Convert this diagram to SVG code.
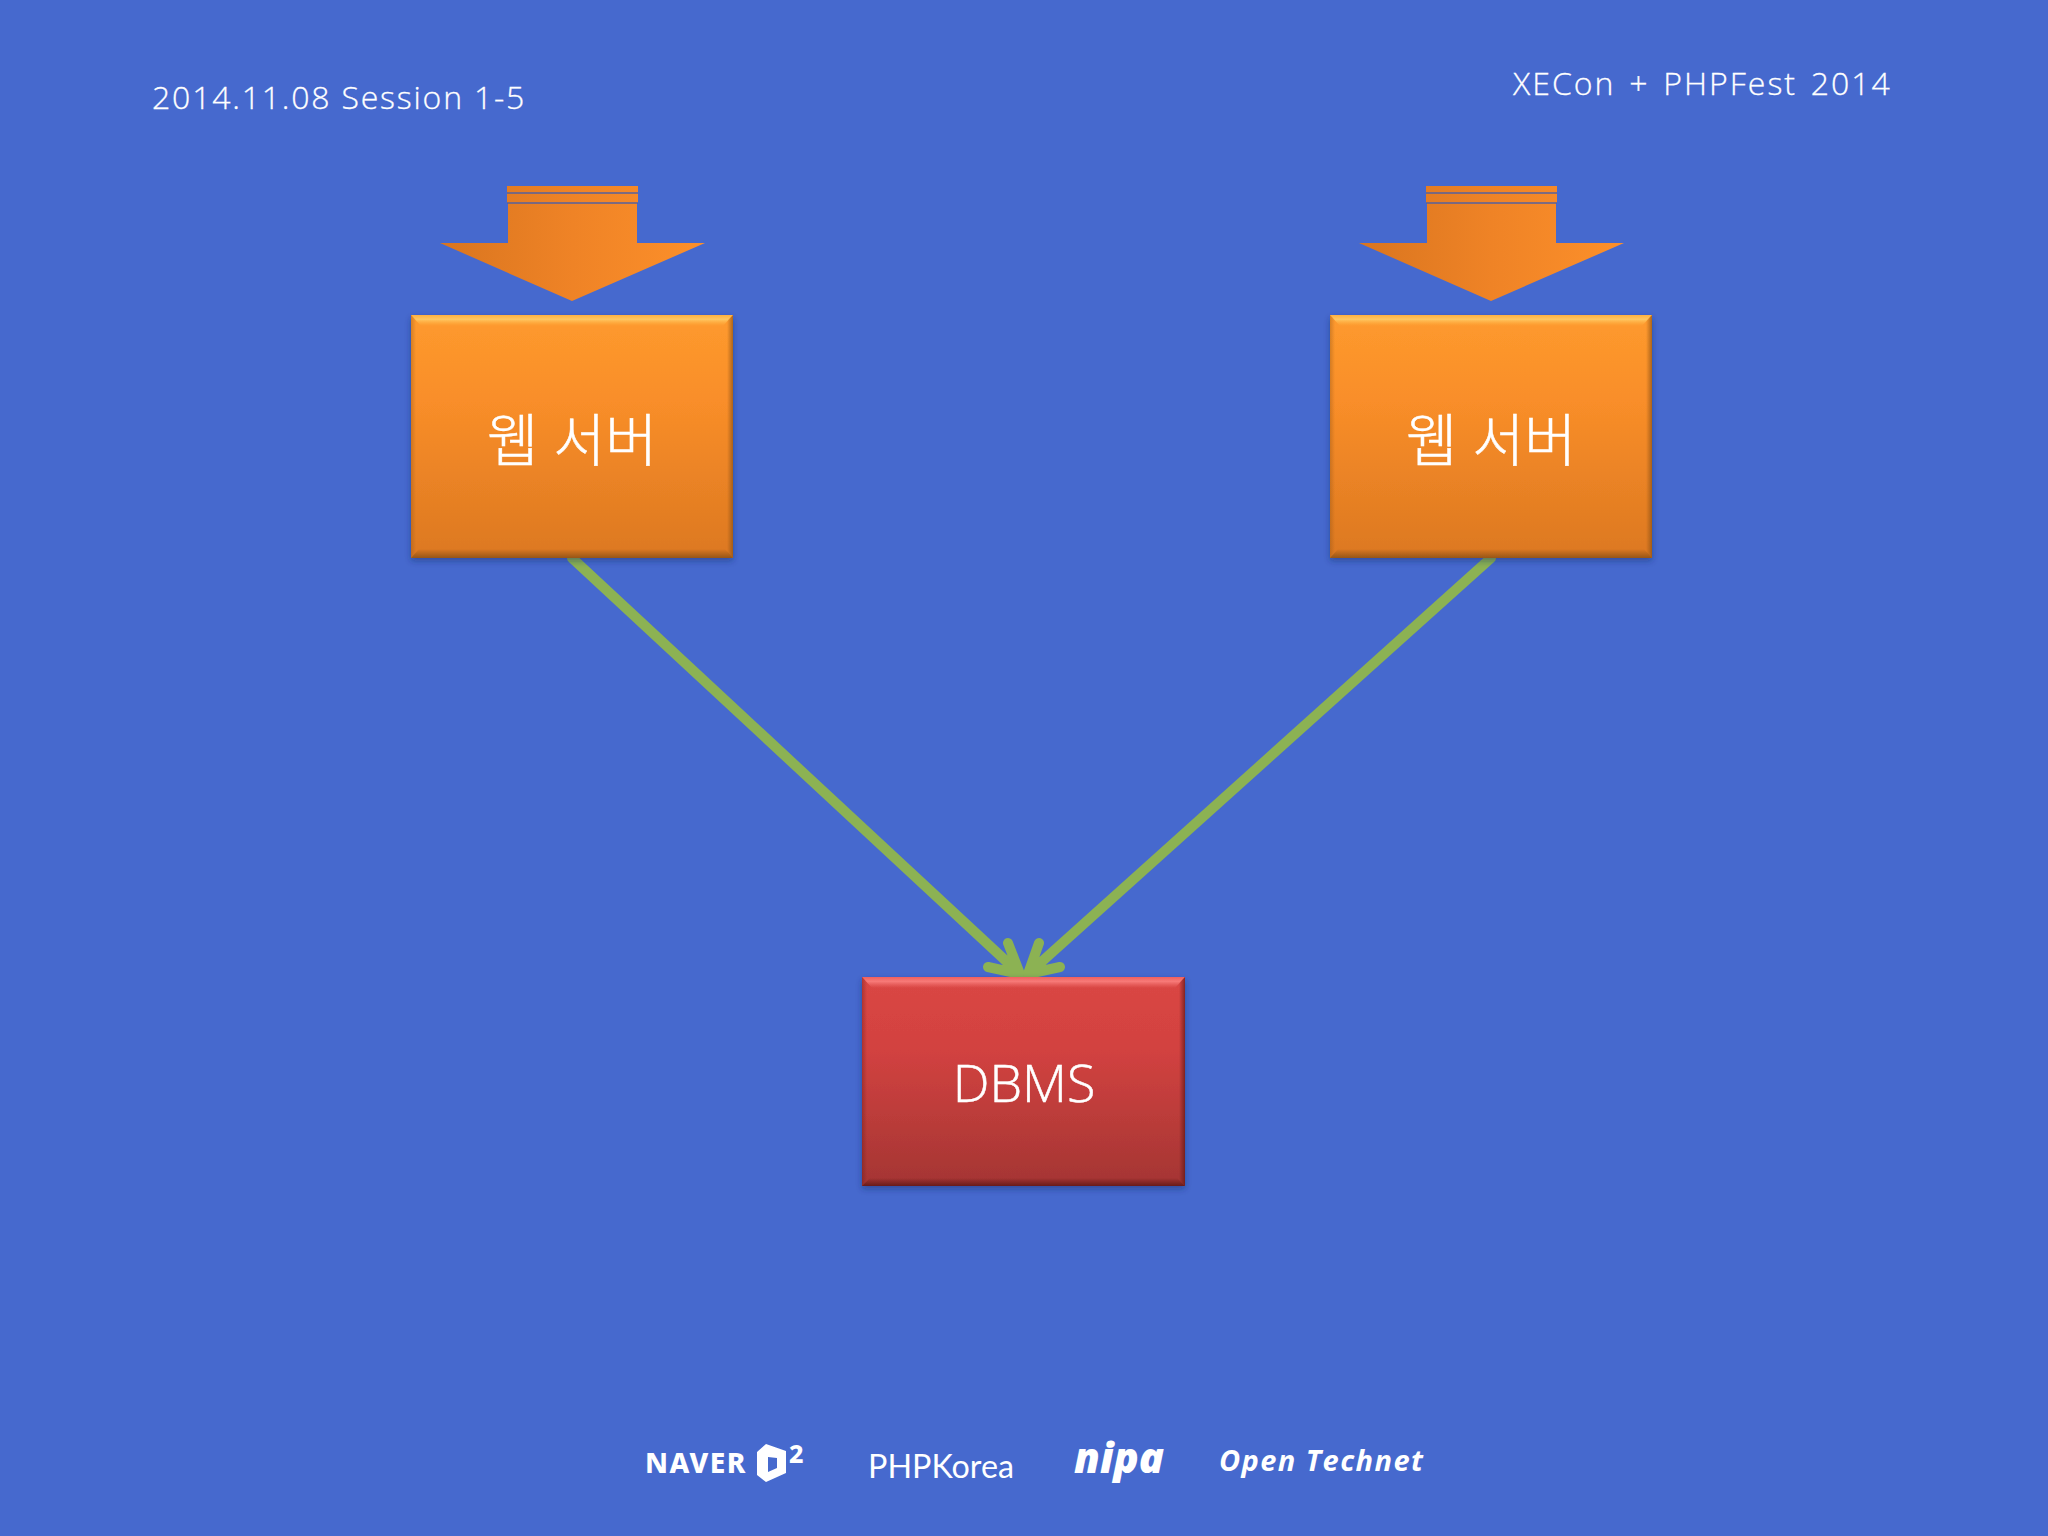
<svg xmlns="http://www.w3.org/2000/svg" width="2048" height="1536" viewBox="0 0 2048 1536">
<defs>
<linearGradient id="org" x1="0" y1="0" x2="0" y2="1"><stop offset="0" stop-color="#fe9a2e"/><stop offset="0.35" stop-color="#f98e29"/><stop offset="1" stop-color="#dc7821"/></linearGradient>
<linearGradient id="red" x1="0" y1="0" x2="0" y2="1"><stop offset="0" stop-color="#da4644"/><stop offset="0.35" stop-color="#d24240"/><stop offset="1" stop-color="#a43533"/></linearGradient>
<linearGradient id="arr" x1="0" y1="0" x2="1" y2="0"><stop offset="0" stop-color="#d9751f"/><stop offset="0.5" stop-color="#ef8326"/><stop offset="1" stop-color="#fd902a"/></linearGradient>
<linearGradient id="hiO" x1="0" y1="0" x2="0" y2="1"><stop offset="0" stop-color="#ffb040"/><stop offset="0.4" stop-color="#ffc660"/><stop offset="1" stop-color="#ffb040" stop-opacity="0"/></linearGradient>
<linearGradient id="hiR" x1="0" y1="0" x2="0" y2="1"><stop offset="0" stop-color="#f0605e"/><stop offset="0.4" stop-color="#f77a78"/><stop offset="1" stop-color="#f06c6a" stop-opacity="0"/></linearGradient>
<linearGradient id="loO" x1="0" y1="0" x2="0" y2="1"><stop offset="0" stop-color="#8a4f14" stop-opacity="0"/><stop offset="1" stop-color="#8a4f14" stop-opacity=".85"/></linearGradient>
<linearGradient id="loR" x1="0" y1="0" x2="0" y2="1"><stop offset="0" stop-color="#5e1615" stop-opacity="0"/><stop offset="1" stop-color="#5e1615" stop-opacity=".85"/></linearGradient>
<linearGradient id="rtO" x1="0" y1="0" x2="1" y2="0"><stop offset="0" stop-color="#8a4f14" stop-opacity="0"/><stop offset="1" stop-color="#8a4f14" stop-opacity=".7"/></linearGradient>
<linearGradient id="rtR" x1="0" y1="0" x2="1" y2="0"><stop offset="0" stop-color="#5e1615" stop-opacity="0"/><stop offset="1" stop-color="#5e1615" stop-opacity=".7"/></linearGradient>
<linearGradient id="ltO" x1="1" y1="0" x2="0" y2="0"><stop offset="0" stop-color="#8a4f14" stop-opacity="0"/><stop offset="1" stop-color="#8a4f14" stop-opacity=".35"/></linearGradient>
<linearGradient id="ltR" x1="1" y1="0" x2="0" y2="0"><stop offset="0" stop-color="#5e1615" stop-opacity="0"/><stop offset="1" stop-color="#5e1615" stop-opacity=".35"/></linearGradient>
<g id="arrow"><path d="M-65 -115H66V-98H65V-58H133L0 0L-132 -58H-64V-98H-65Z" fill="url(#arr)"/><path d="M-65 -108H66M-65 -98H66" stroke="#56619f" stroke-width="1.6" fill="none"/></g>
<filter id="sh" x="-5%" y="-5%" width="110%" height="112%"><feDropShadow dx="0" dy="3" stdDeviation="3" flood-color="#1d2b60" flood-opacity=".45"/></filter>
</defs>
<style>
text{font-family:"Open Sans","Noto Sans","Noto Sans CJK KR",sans-serif;fill:#fff}
.hdr{font-size:32px;font-weight:300;stroke:#fff;stroke-width:.3}
.lbl{font-size:52px;font-weight:300;text-anchor:middle;stroke:#fff;stroke-width:.5}
.ko{font-size:56.5px}
.lnk{fill:none;stroke:#8cb253;stroke-width:10;stroke-linecap:round;stroke-linejoin:round}
</style>
<rect width="2048" height="1536" fill="#4669ce"/>
<g id="header"><text class="hdr" x="152" y="109" letter-spacing="1.8">2014.11.08 Session 1-5</text><text class="hdr" x="1513" y="95" letter-spacing="2" word-spacing="3.5">XECon + PHPFest 2014</text></g>
<g id="inflow-left"><use href="#arrow" x="572" y="301"/></g>
<g id="inflow-right"><use href="#arrow" x="1491" y="301"/></g>
<g id="connectors">
<path class="lnk" d="M572 558L1020 974M1008 943L1020 974L988 967"/>
<path class="lnk" d="M1491 558L1028 974M1039 943L1028 974L1060 967"/>
</g>
<g id="web1"><rect x="411" y="315" width="322" height="243" fill="url(#org)" filter="url(#sh)"/><path d="M411 315H733L723 326H421Z" fill="url(#hiO)"/><path d="M733 315V558L727 552V321Z" fill="url(#rtO)"/><path d="M411 558H733L725 549H419Z" fill="url(#loO)"/><path d="M411 315V558L416 553V320Z" fill="url(#ltO)"/><text class="lbl ko" x="572" y="461">웹 서버</text></g>
<g id="web2"><rect x="1330" y="315" width="322" height="243" fill="url(#org)" filter="url(#sh)"/><path d="M1330 315H1652L1642 326H1340Z" fill="url(#hiO)"/><path d="M1652 315V558L1646 552V321Z" fill="url(#rtO)"/><path d="M1330 558H1652L1644 549H1338Z" fill="url(#loO)"/><path d="M1330 315V558L1335 553V320Z" fill="url(#ltO)"/><text class="lbl ko" x="1491" y="461">웹 서버</text></g>
<g id="dbms"><rect x="862" y="977" width="323" height="209" fill="url(#red)" filter="url(#sh)"/><path d="M862 977H1185L1175 988H872Z" fill="url(#hiR)"/><path d="M1185 977V1186L1179 1180V983Z" fill="url(#rtR)"/><path d="M862 1186H1185L1177 1178H870Z" fill="url(#loR)"/><path d="M862 977V1186L867 1181V982Z" fill="url(#ltR)"/><text class="lbl" x="1024" y="1102">DBMS</text></g>
<g id="logos">
<text x="645" y="1473" font-size="28" font-weight="800" letter-spacing="1.4" style="font-family:'Noto Sans',sans-serif">NAVER</text>
<path d="M757 1452L766 1444L786 1451V1473L766 1482L757 1475ZM768 1457V1472L777 1468V1458Z" fill="#fff" fill-rule="evenodd"/>
<text x="789" y="1463" font-size="25" font-weight="800" style="font-family:'Noto Sans',sans-serif">2</text>
<text x="868" y="1478" font-size="33" textLength="146" lengthAdjust="spacingAndGlyphs" style="font-family:'Lato',sans-serif">PHPKorea</text>
<text x="1074" y="1473" font-size="43" font-weight="800" font-style="italic" textLength="90" lengthAdjust="spacingAndGlyphs" style="font-family:'Open Sans',sans-serif">nipa</text>
<text x="1219" y="1471" font-size="29" font-weight="700" font-style="italic" textLength="204" style="font-family:'Open Sans',sans-serif">Open Technet</text>
</g>
</svg>
